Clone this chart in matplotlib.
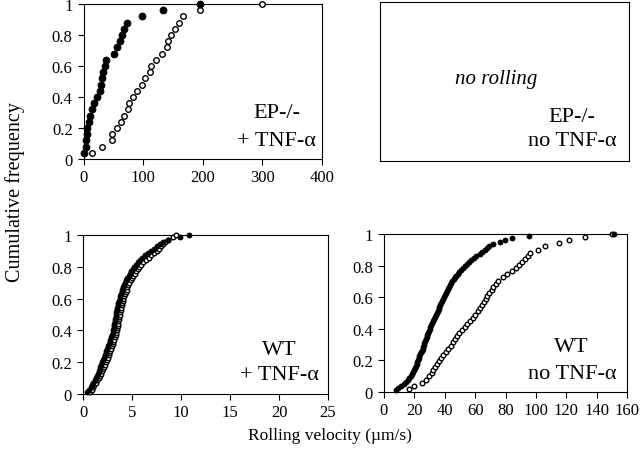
import numpy as np
import matplotlib
matplotlib.use("Agg")
import matplotlib.pyplot as plt

plt.rcParams['font.family'] = ['Liberation Serif', 'DejaVu Serif']

# EP-/- + TNF-alpha (velocities, um/s)
ep_tnf_filled = [1, 3, 4, 5, 6, 8, 10, 13, 17, 22, 27, 28, 30, 32, 36, 38,
                 50, 55, 61, 64, 67, 72, 98, 133, 195]
ep_tnf_open = [13, 30, 47.6, 47.6, 56, 61.6, 67.8, 74.5, 75.6, 81.8, 89.6, 98.5,
               103, 111, 113, 122, 131.6, 140, 142, 145.6, 153, 160, 167, 195, 300]

# WT + TNF-alpha
wt_tnf_filled = [0.4, 0.6, 0.8, 0.9, 1.0, 1.2, 1.3,
                 1.4, 1.5, 1.6, 1.7, 1.75, 1.85, 1.9,
                 2.0, 2.1, 2.2, 2.3, 2.35, 2.45, 2.5,
                 2.6, 2.7, 2.75, 2.85, 2.9, 3.0, 3.05,
                 3.1, 3.12, 3.15, 3.2, 3.25, 3.3, 3.35,
                 3.4, 3.45, 3.5, 3.55, 3.6, 3.7, 3.75,
                 3.8, 3.9, 3.95, 4.0, 4.1, 4.2, 4.3,
                 4.4, 4.5, 4.65, 4.8, 4.9, 5.05, 5.2,
                 5.4, 5.6, 5.8, 6.0, 6.3, 6.6, 6.9,
                 7.2, 7.5, 7.8, 8.1, 8.7, 9.9, 10.8]
wt_tnf_open = [0.7, 0.9, 1.0, 1.15, 1.3, 1.45, 1.6,
               1.7, 1.8, 1.9, 2.0, 2.1, 2.2, 2.3,
               2.4, 2.5, 2.6, 2.65, 2.75, 2.8, 2.9,
               3.0, 3.05, 3.15, 3.2, 3.3, 3.4, 3.45,
               3.5, 3.52, 3.55, 3.6, 3.65, 3.7, 3.75,
               3.8, 3.85, 3.9, 3.95, 4.0, 4.05, 4.1,
               4.2, 4.3, 4.4, 4.45, 4.5, 4.6, 4.7,
               4.85, 5.0, 5.1, 5.25, 5.4, 5.55, 5.7,
               5.9, 6.1, 6.4, 6.7, 6.9, 7.2, 7.5,
               7.7, 7.9, 8.1, 8.4, 8.7, 9.2, 9.5]

# WT no TNF-alpha
wt_no_filled = [8.1, 9, 11.4, 13, 14.5, 15.8, 16.7, 17.5, 18.6, 19.3,
                20, 20.6, 21, 21.5, 22, 22.4, 22.8, 23.3, 23.9, 24.4,
                24.9, 25.4, 25.9, 26.3, 26.6, 27, 27.5, 28, 28.6, 29.2,
                29.6, 30, 30.5, 31, 31.5, 32, 32.7, 33.3, 34, 34.7,
                35.3, 36, 36.5, 37, 37.5, 38, 38.7, 39.5, 40.1, 40.7,
                41.4, 42, 42.7, 43.4, 44.2, 45, 45.8, 46.6, 47.5, 48.5,
                49.5, 50.5, 51.8, 53, 54.5, 56, 57.5, 59, 60.5, 63,
                64.3, 66.5, 68, 69.3, 72, 76, 79.7, 84.5, 95.7, 151]
wt_no_open = [16.7, 20, 24.8, 27.6, 29.5, 31.4, 32.5, 33.6, 35, 36.2,
              37.5, 39, 40.5, 42.3, 43.8, 45.2, 46.5, 47.8, 49.5, 51,
              53, 54.9, 56.5, 58.4, 60, 61.7, 63, 64.2, 65.5, 66.8,
              68, 69.4, 70.8, 72, 74, 75.3, 78.5, 81.2, 84, 86.9,
              88.5, 90.6, 92.8, 94.5, 96, 101.6, 106, 115, 122, 132.3, 150]

yticks = [0, 0.2, 0.4, 0.6, 0.8, 1]
ytick_labels = ['0', '0.2', '0.4', '0.6', '0.8', '1']

TICK_FS = 12
PANEL_FS = 16


def ecdf(vals):
    v = np.sort(np.asarray(vals, dtype=float))
    return v, np.arange(1, len(v) + 1) / len(v)


def style(ax, xlim, xticks):
    ax.set_xlim(*xlim)
    ax.set_ylim(0, 1)
    ax.set_xticks(xticks)
    ax.set_xticklabels([str(t) for t in xticks])
    ax.set_yticks(yticks)
    ax.set_yticklabels(ytick_labels)
    ax.tick_params(direction='out', length=4, width=0.8, labelsize=TICK_FS)
    ax.tick_params(axis='x', pad=3)
    ax.tick_params(axis='y', pad=4)
    for s in ax.spines.values():
        s.set_linewidth(0.8)


def plot_pair(ax, filled, opn, ms_f, ms_o):
    x, y = ecdf(opn)
    ax.plot(x, y, 'o', ms=ms_o, mfc='white', mec='black', mew=1.0, ls='none', clip_on=False, zorder=3)
    x, y = ecdf(filled)
    ax.plot(x, y, 'o', ms=ms_f, mfc='black', mec='black', mew=0.6, ls='none', clip_on=False, zorder=4)


def panel_label(ax, x, y1, y2, t1, t2):
    ax.text(x, y1, t1, transform=ax.transAxes, ha='center', va='center', fontsize=PANEL_FS)
    ax.text(x, y2, t2, transform=ax.transAxes, ha='center', va='center', fontsize=PANEL_FS)


fig = plt.figure(figsize=(6.4, 4.6), dpi=100)

ax1 = fig.add_axes([0.131, 0.652, 0.372, 0.337])
plot_pair(ax1, ep_tnf_filled, ep_tnf_open, 5.0, 4.0)
style(ax1, (0, 400), [0, 100, 200, 300, 400])
panel_label(ax1, 0.81, 0.30, 0.12, 'EP-/-', '+ TNF-α')

ax2 = fig.add_axes([0.594, 0.648, 0.389, 0.3455])
ax2.set_xticks([])
ax2.set_yticks([])
for s in ax2.spines.values():
    s.set_linewidth(0.8)
ax2.text(0.466, 0.52, 'no rolling', transform=ax2.transAxes, ha='center', va='center',
         fontsize=15, style='italic')
panel_label(ax2, 0.77, 0.277, 0.128, 'EP-/-', 'no TNF-α')

ax3 = fig.add_axes([0.130, 0.141, 0.3825, 0.346])
plot_pair(ax3, wt_tnf_filled, wt_tnf_open, 3.6, 3.3)
style(ax3, (0, 25), [0, 5, 10, 15, 20, 25])
panel_label(ax3, 0.80, 0.283, 0.126, 'WT', '+ TNF-α')

ax4 = fig.add_axes([0.600, 0.1457, 0.380, 0.3433])
plot_pair(ax4, wt_no_filled, wt_no_open, 3.6, 3.3)
style(ax4, (0, 160), [0, 20, 40, 60, 80, 100, 120, 140, 160])
panel_label(ax4, 0.772, 0.285, 0.114, 'WT', 'no TNF-α')

fig.text(0.023, 0.582, 'Cumulative frequency', rotation=90, ha='center', va='center', fontsize=14.5)
fig.text(0.516, 0.052, 'Rolling velocity (µm/s)', ha='center', va='center', fontsize=12.5)

fig.savefig('out.png', dpi=100)
